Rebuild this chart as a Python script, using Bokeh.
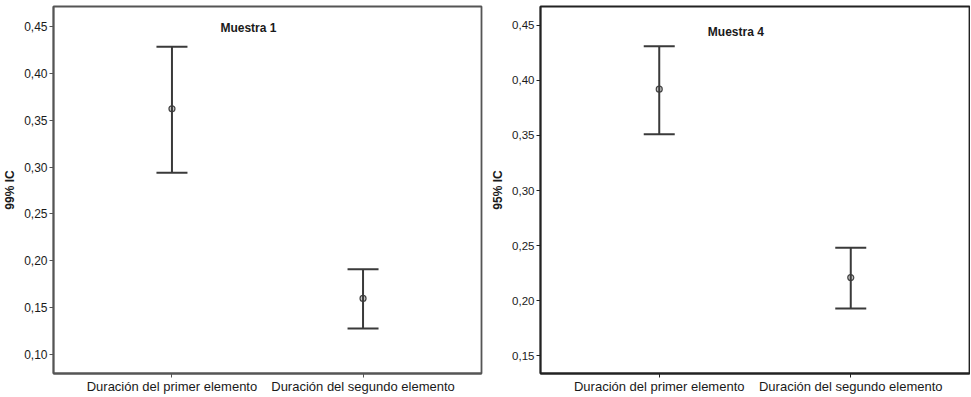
from bokeh.plotting import figure
from bokeh.layouts import row
from bokeh.models import (ColumnDataSource, Range1d, FixedTicker, Whisker, TeeHead, Label)
from bokeh.embed import file_html
from bokeh.resources import INLINE

# ---------------- data ----------------
categories = ["Duración del primer elemento", "Duración del segundo elemento"]

m1_title = "Muestra 1"
m1_ylabel = "99% IC"
m1_mean = [0.362, 0.160]
m1_lower = [0.294, 0.128]
m1_upper = [0.428, 0.191]
m1_yticks = [0.10, 0.15, 0.20, 0.25, 0.30, 0.35, 0.40, 0.45]
m1_ytick_labels = ["0,10", "0,15", "0,20", "0,25", "0,30", "0,35", "0,40", "0,45"]

m4_title = "Muestra 4"
m4_ylabel = "95% IC"
m4_mean = [0.392, 0.221]
m4_lower = [0.351, 0.193]
m4_upper = [0.431, 0.248]
m4_yticks = [0.15, 0.20, 0.25, 0.30, 0.35, 0.40, 0.45]
m4_ytick_labels = ["0,15", "0,20", "0,25", "0,30", "0,35", "0,40", "0,45"]

FONT = "Liberation Sans"


def make_panel(title, ylabel, mean, lower, upper, yticks, ytick_labels, yrange,
               width, border_left, border_right, tick_font, ink):
    xs = list(range(1, len(categories) + 1))
    src = ColumnDataSource(dict(x=xs, mean=mean, lower=lower, upper=upper))
    p = figure(width=width, height=396, output_backend="svg", toolbar_location=None,
               x_range=Range1d(0.38, 2.62), y_range=Range1d(*yrange),
               min_border_left=border_left, min_border_right=border_right,
               min_border_top=6, min_border_bottom=20,
               background_fill_color="white", border_fill_color="white")
    p.grid.visible = False
    p.outline_line_color = ink
    p.outline_line_width = 1.8

    # y axis
    p.yaxis.ticker = FixedTicker(ticks=yticks)
    p.yaxis.major_label_overrides = {t: l for t, l in zip(yticks, ytick_labels)}
    p.yaxis.axis_label = ylabel
    # x axis
    p.xaxis.ticker = FixedTicker(ticks=xs)
    p.xaxis.major_label_overrides = {x: c for x, c in zip(xs, categories)}

    for ax in (p.xaxis[0], p.yaxis[0]):
        ax.axis_line_color = ink
        ax.axis_line_width = 1.8
        ax.major_tick_line_color = ink
        ax.major_tick_out = 4
        ax.major_tick_in = 0
        ax.minor_tick_line_color = None
        ax.major_label_text_font = FONT
        ax.major_label_text_color = "#1a1a1a"
        ax.major_label_standoff = 2
        ax.axis_label_text_font = FONT
        ax.axis_label_text_font_style = "bold"
        ax.axis_label_text_font_size = "12px"
        ax.axis_label_text_color = "#1a1a1a"
        ax.axis_label_standoff = 4
    p.yaxis.major_label_text_font_size = tick_font
    p.xaxis.major_label_text_font_size = "13px"
    p.xaxis.major_label_standoff = 1
    p.xaxis.axis_label_standoff = 0

    wink = "#3a3a3a"
    w = Whisker(base="x", upper="upper", lower="lower", source=src,
                line_color=wink, line_width=2,
                upper_head=TeeHead(size=31, line_color=wink, line_width=2),
                lower_head=TeeHead(size=31, line_color=wink, line_width=2),
                level="glyph")
    p.add_layout(w)
    p.scatter("x", "mean", source=src, marker="circle", size=6,
              fill_color="#c8c8c8", line_color="#444444", line_width=1.2)

    p.add_layout(Label(x=1.4, y=yrange[1] - 0.023, text=title, text_align="center",
                       text_baseline="middle", text_font=FONT, text_font_style="bold",
                       text_font_size="12px", text_color="#1a1a1a"))
    return p


p1 = make_panel(m1_title, m1_ylabel, m1_mean, m1_lower, m1_upper, m1_yticks,
                m1_ytick_labels, (0.08, 0.471), 486, 53, 5, "12px", "#555555")
p2 = make_panel(m4_title, m4_ylabel, m4_mean, m4_lower, m4_upper, m4_yticks,
                m4_ytick_labels, (0.134, 0.467), 484, 54, 1, "11.5px", "#222222")

layout = row(p1, p2)
open("out.html", "w").write(file_html(layout, INLINE))
